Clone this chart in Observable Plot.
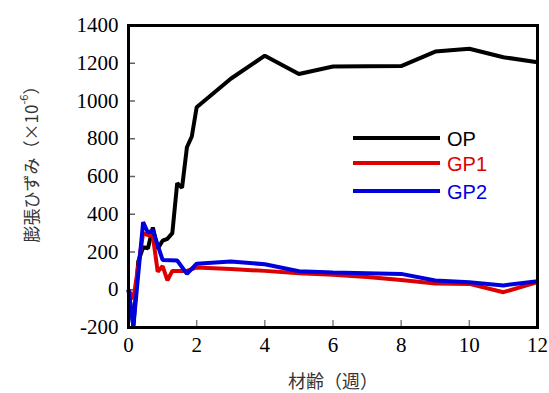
<!DOCTYPE html>
<html><head><meta charset="utf-8">
<script src="https://cdn.jsdelivr.net/npm/d3@7"></script>
<script src="https://cdn.jsdelivr.net/npm/@observablehq/plot@0.6"></script>
<style>body{margin:0;background:#fff}
.serif-tick text{font-family:"Liberation Serif","Tinos","Times New Roman",Times,"DejaVu Serif",serif !important;}
</style>
</head><body><div id="chart"></div>
<script>
// Data (ages in days; plotted in weeks)
const seriesNames = ["OP", "GP1", "GP2"];
const seriesColors = ["#000000", "#dd0000", "#0000dd"];

const opDays   = [0, 1, 2, 3, 4, 5, 6, 7, 8, 9, 10, 11, 12, 13, 14, 21, 28, 35, 42, 49, 56, 63, 70, 77, 84];
const opValues = [0, -190, 150, 225, 220, 330, 218, 260, 270, 300, 565, 540, 755, 812, 967, 1118, 1240, 1143, 1183, 1184, 1185, 1262, 1277, 1232, 1205];

const gp1Days   = [0, 1, 3, 4, 5, 6, 7, 8, 9, 10, 12, 14, 21, 28, 35, 42, 49, 56, 63, 70, 77, 84];
const gp1Values = [0, -50, 300, 290, 285, 95, 125, 50, 100, 100, 100, 118, 110, 100, 88, 80, 67, 52, 33, 31, -13, 40];

const gp2Days   = [0, 1, 3, 4, 5, 7, 10, 12, 14, 21, 28, 35, 42, 49, 56, 63, 70, 77, 84];
const gp2Values = [0, -195, 358, 302, 315, 158, 155, 84, 138, 150, 135, 98, 92, 88, 84, 49, 40, 23, 45];

const xTicks = [0, 2, 4, 6, 8, 10, 12];
const yTicks = [-200, 0, 200, 400, 600, 800, 1000, 1200, 1400];

const seriesDays = [opDays, gp1Days, gp2Days];
const seriesValues = [opValues, gp1Values, gp2Values];
const tables = seriesNames.map((name, i) =>
  seriesDays[i].map((d, j) => ({series: name, t: d / 7, v: seriesValues[i][j]}))
);

const W = 549, H = 393, mL = 128, mR = 12, mT = 25, mB = 66;
const plotW = W - mL - mR, plotH = H - mT - mB;

const plot = Plot.plot({
  width: W, height: H,
  marginLeft: mL, marginRight: mR, marginTop: mT, marginBottom: mB,
  x: {domain: [0, 12]},
  y: {domain: [-200, 1400]},
  color: {domain: seriesNames, range: seriesColors},
  style: {fontSize: "21px", color: "#000", background: "#fff", overflow: "visible"},
  marks: [
    Plot.tickX(xTicks, {x: d => d, stroke: "#808080", strokeWidth: 1.5, insetTop: plotH - 7}),
    Plot.tickY(yTicks, {y: d => d, stroke: "#606060", strokeWidth: 1.5, insetRight: plotW - 7}),
    ...tables.map(tb => Plot.line(tb, {x: "t", y: "v", stroke: "series", strokeWidth: 4, strokeLinejoin: "miter", strokeLinecap: "butt"})),
    Plot.frame({stroke: "#000", strokeWidth: 3}),
    Plot.axisX({ticks: xTicks, tickSize: 0, tickPadding: 10, label: null, fontSize: 21, fill: "#000", className: "serif-tick", tickFormat: d => `${d}`}),
    Plot.axisY({ticks: yTicks, tickSize: 0, tickPadding: 10, label: null, fontSize: 21, fill: "#000", className: "serif-tick", tickFormat: d => `${d}`})
  ]
});

const svg = d3.select(plot);
svg.selectAll("text").classed("serif-tick-t", true)
  .style("font-family", "Liberation Serif, Tinos, Times New Roman, DejaVu Serif, serif");

// Y axis title
const yt = svg.append("text")
  .attr("transform", "translate(30,160) rotate(-90)")
  .attr("text-anchor", "middle")
  .attr("dominant-baseline", "central")
  .style("font-family", "'Noto Sans CJK JP','Noto Sans',sans-serif")
  .style("font-size", "17px")
  .attr("fill", "#333");
yt.append("tspan").text("膨張ひずみ（×10");
yt.append("tspan").attr("dy", -7).style("font-size", "11px").text("-6");
yt.append("tspan").attr("dy", 7).text("）");

// X axis title
svg.append("text")
  .attr("x", 333).attr("y", 380)
  .attr("text-anchor", "middle")
  .attr("dominant-baseline", "central")
  .style("font-family", "'Noto Sans CJK JP','Noto Sans',sans-serif")
  .style("font-size", "18px")
  .attr("fill", "#333")
  .text("材齢（週）");

// Legend
const legY = [138, 163, 191];
seriesNames.forEach((name, i) => {
  svg.append("line").attr("x1", 353).attr("x2", 440).attr("y1", legY[i]).attr("y2", legY[i])
    .attr("stroke", seriesColors[i]).attr("stroke-width", 4);
  svg.append("text").attr("x", 447).attr("y", legY[i] + 1)
    .attr("text-anchor", "start")
    .attr("dominant-baseline", "central")
    .style("font-family", "'Liberation Sans',Arial,sans-serif")
    .style("font-size", "20px")
    .attr("fill", seriesColors[i])
    .text(name);
});

document.getElementById("chart").appendChild(plot);
</script>
</body></html>
